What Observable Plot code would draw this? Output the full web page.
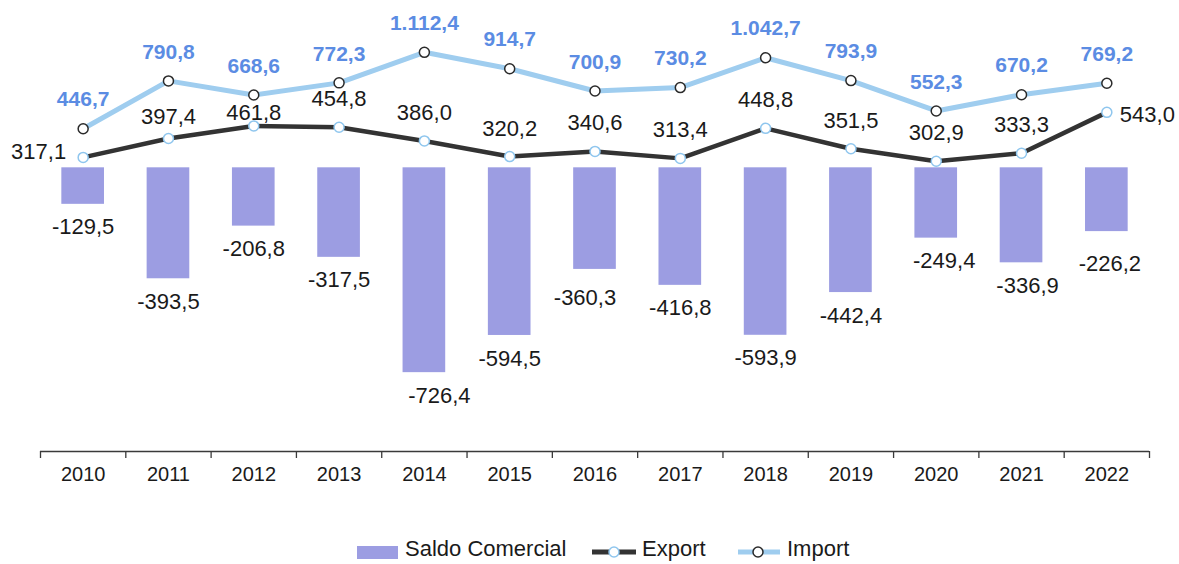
<!DOCTYPE html>
<html>
<head>
<meta charset="utf-8">
<script src="https://cdn.jsdelivr.net/npm/d3@7"></script>
<script src="https://cdn.jsdelivr.net/npm/@observablehq/plot@0.6"></script>
<style>
  html, body { margin: 0; padding: 0; background: #ffffff; }
  body { font-family: "Liberation Sans", Arial, sans-serif; }
  #wrap { position: relative; width: 1179px; height: 564px; overflow: hidden; background: #ffffff; }
  #wrap > svg, #wrap > figure { position: absolute; left: 0; top: 0; margin: 0; }
  .lg { position: absolute; top: 538px; line-height: 22px; font-size: 22px; color: #1a1a1a; white-space: nowrap; }
  .sw { position: absolute; }
</style>
</head>
<body>
<div id="wrap"></div>
<script>
// ---- data ----
const years = [2010, 2011, 2012, 2013, 2014, 2015, 2016, 2017, 2018, 2019, 2020, 2021, 2022];
const saldoComercial = [-129.5, -393.5, -206.8, -317.5, -726.4, -594.5, -360.3, -416.8, -593.9, -442.4, -249.4, -336.9, -226.2];
const exportValues = [317.1, 397.4, 461.8, 454.8, 386.0, 320.2, 340.6, 313.4, 448.8, 351.5, 302.9, 333.3, 543.0];
const importValues = [446.7, 790.8, 668.6, 772.3, 1112.4, 914.7, 700.9, 730.2, 1042.7, 793.9, 552.3, 670.2, 769.2];
const seriesNames = ["Saldo Comercial", "Export", "Import"];

// ---- table ----
const rows = years.map((year, i) => ({
  year,
  saldo: saldoComercial[i],
  exp: exportValues[i],
  imp: importValues[i]
}));

const locale = d3.formatLocale({decimal: ",", thousands: ".", grouping: [3], currency: ["", ""], minus: "-"});
const fmt = locale.format(",.1f");

const W = 1179, H = 520;
const mLeft = 40, mRight = 30, mTop = 0, mBottom = 69;
const xDomain = [years[0] - 0.5, years[years.length - 1] + 0.5];
const boundaries = d3.range(years[0] - 0.5, years[years.length - 1] + 1, 1);

const colBar = "#9c9de2";
const colExport = "#333333";
const colImport = "#9fcdef";
const colImportLabel = "#5b8ce3";
const colExportDot = "#8fc6ee";
const colText = "#1a1a1a";
const font = "Liberation Sans, Arial, sans-serif";

// label placement tweaks (the original chart nudged a few labels)
const exportLabelNudge = {2011: {dy: -22}, 2012: {dy: -13}};
const barLabelNudge = {2014: {dx: 15}, 2016: {dx: -10, dy: 29}, 2020: {dx: 8}, 2021: {dx: 6}, 2022: {dx: 3, dy: 32}};

function nudgedTexts(data, base, nudges) {
  const plain = data.filter(d => !(d.year in nudges));
  return [
    Plot.text(plain, base),
    ...Object.entries(nudges).map(([yr, o]) =>
      Plot.text(data.filter(d => d.year === +yr), {...base, ...o}))
  ];
}

// Bars (linear primary axis)
const barDomain = [-1006, 593.3];
const plotBars = Plot.plot({
  width: W, height: H,
  marginLeft: mLeft, marginRight: mRight, marginTop: mTop, marginBottom: mBottom,
  style: {background: "transparent", fontFamily: font, overflow: "visible"},
  x: {type: "linear", domain: xDomain},
  y: {type: "linear", domain: barDomain, axis: null},
  marks: [
    Plot.rectY(rows, {x1: d => d.year - 0.25, x2: d => d.year + 0.25, y: "saldo", fill: colBar}),
    ...nudgedTexts(rows,
      {x: "year", y: "saldo", text: d => fmt(d.saldo), dy: 23, fontSize: 22, fill: colText},
      barLabelNudge),
    Plot.ruleY([barDomain[0]], {stroke: "#3a3a3a", strokeWidth: 1.3}),
    Plot.axisX({ticks: boundaries, tickFormat: () => "", tickSize: 7, stroke: "#3a3a3a", strokeWidth: 1.3, label: null}),
    Plot.axisX({ticks: years, tickSize: 0, tickPadding: 15, tickFormat: d => String(d), fontSize: 20, fill: colText, label: null})
  ]
});

// Lines (logarithmic secondary axis)
const lineDomain = [9.45, 2066];
const midRows = rows.slice(1, -1);
const plotLines = Plot.plot({
  width: W, height: H,
  marginLeft: mLeft, marginRight: mRight, marginTop: mTop, marginBottom: mBottom,
  style: {background: "transparent", fontFamily: font, overflow: "visible"},
  x: {type: "linear", domain: xDomain, axis: null},
  y: {type: "log", domain: lineDomain, axis: null},
  marks: [
    Plot.line(rows, {x: "year", y: "imp", stroke: colImport, strokeWidth: 5}),
    Plot.line(rows, {x: "year", y: "exp", stroke: colExport, strokeWidth: 4.5}),
    Plot.dot(rows, {x: "year", y: "imp", r: 5, fill: "white", stroke: "#2a2a2a", strokeWidth: 1.5}),
    Plot.dot(rows, {x: "year", y: "exp", r: 5, fill: "white", stroke: colExportDot, strokeWidth: 1.5}),
    Plot.text(rows, {x: "year", y: "imp", text: d => fmt(d.imp), dy: -29, fontSize: 21, fontWeight: "bold", fill: colImportLabel}),
    ...nudgedTexts(midRows,
      {x: "year", y: "exp", text: d => fmt(d.exp), dy: -28, fontSize: 22, fill: colText},
      exportLabelNudge),
    Plot.text(rows.slice(0, 1), {x: "year", y: "exp", text: d => fmt(d.exp), dx: -17, dy: -5, textAnchor: "end", fontSize: 22, fill: colText}),
    Plot.text(rows.slice(-1), {x: "year", y: "exp", text: d => fmt(d.exp), dx: 13, dy: 3, textAnchor: "start", fontSize: 22, fill: colText})
  ]
});

const wrap = document.getElementById("wrap");
wrap.appendChild(plotBars);
wrap.appendChild(plotLines);

// Legend
function addText(txt, left) {
  const s = document.createElement("span");
  s.className = "lg"; s.style.left = left + "px"; s.textContent = txt;
  wrap.appendChild(s);
}
function addSwatch(html, left, top, w, h) {
  const d = document.createElement("div");
  d.className = "sw"; d.style.left = left + "px"; d.style.top = top + "px";
  d.innerHTML = `<svg width="${w}" height="${h}" style="display:block">${html}</svg>`;
  wrap.appendChild(d);
}
addSwatch(`<rect x="0" y="0" width="41" height="13" fill="${colBar}"/>`, 357, 546, 41, 13);
addText(seriesNames[0], 405);
addSwatch(`<line x1="1" y1="7" x2="45" y2="7" stroke="${colExport}" stroke-width="5"/><circle cx="23" cy="7" r="5" fill="white" stroke="${colExportDot}" stroke-width="1.5"/>`, 591, 545, 46, 14);
addText(seriesNames[1], 642);
addSwatch(`<line x1="1" y1="7" x2="43" y2="7" stroke="${colImport}" stroke-width="5"/><circle cx="21" cy="7" r="5" fill="white" stroke="#2a2a2a" stroke-width="1.5"/>`, 737, 545, 44, 14);
addText(seriesNames[2], 787);
</script>
</body>
</html>
